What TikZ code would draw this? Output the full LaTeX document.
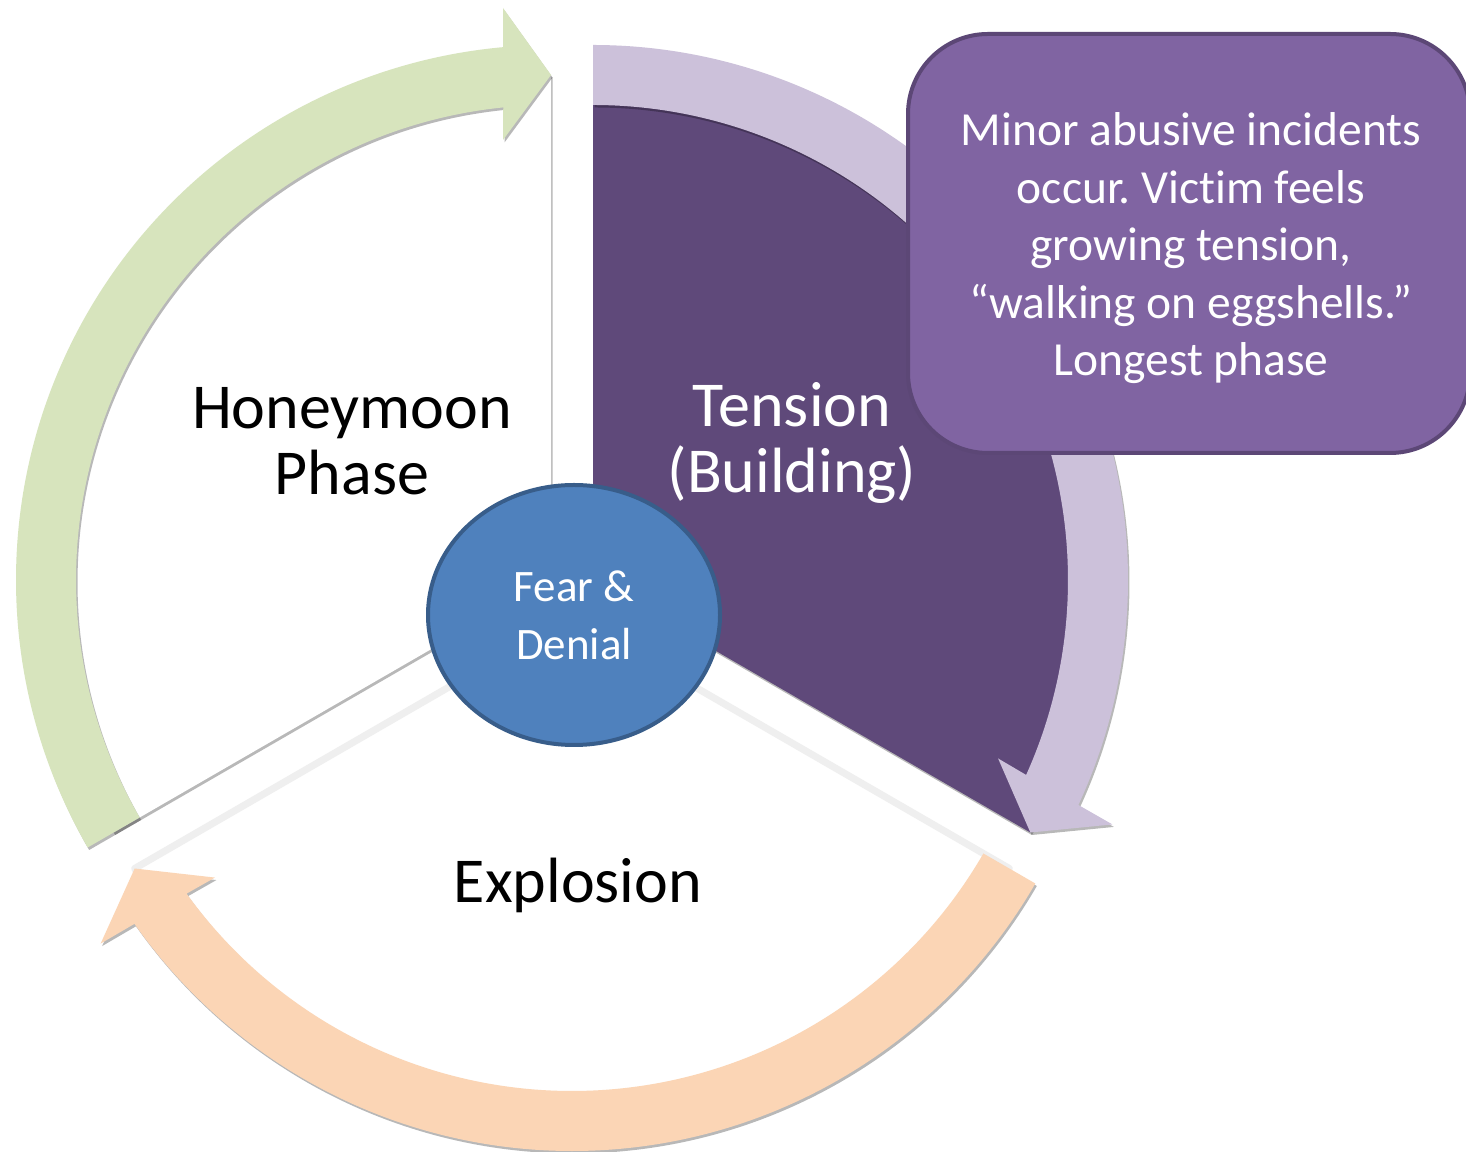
\documentclass[tikz,border=0pt]{standalone}
\usepackage{fontspec}
\setmainfont[Ligatures=NoCommon]{Carlito}
\frenchspacing
\usetikzlibrary{calc,shadows,shapes.geometric}
\definecolor{grn}{HTML}{D7E4BD}
\definecolor{lpur}{HTML}{CCC1DA}
\definecolor{peach}{HTML}{FBD5B5}
\definecolor{dpur}{HTML}{5F497A}
\definecolor{mpur}{HTML}{8064A2}
\definecolor{mpurb}{HTML}{5C4776}
\definecolor{blu}{HTML}{4F81BD}
\definecolor{blub}{HTML}{385D8A}
\definecolor{edgegray}{HTML}{EFEFEF}
\newcommand{\cyclearrow}[3]{%
  \pgfmathsetmacro{\aS}{#2+120}%
  \pgfmathsetmacro{\aO}{#2+5.13}%
  \pgfmathsetmacro{\aI}{#2+5.77}%
  \pgfmathsetmacro{\aP}{#2+90}%
  \fill[#3,shd] ($(#1)+(\aS:535)$) arc[start angle=\aS,end angle=\aO,radius=535]
     -- ($(#1)+(#2:572)+(\aP:48)$) -- ($(#1)+(#2:505)$) -- ($(#1)+(#2:440)+(\aP:48)$)
     -- ($(#1)+(\aI:475)$) arc[start angle=\aI,end angle=\aS,radius=475] -- cycle;}
\begin{document}
\begin{tikzpicture}[x=1pt,y=1pt,
  shd/.style={drop shadow={shadow xshift=1.5pt,shadow yshift=-2.5pt,fill=black,opacity=0.28}},
  lbl/.style={font=\fontsize{64}{66}\selectfont,align=center,inner sep=0pt}]
\useasboundingbox (0,0) rectangle (1466,1151);
\fill[white] (0,0) rectangle (1466,1151);
\coordinate (cH) at (551,571);
\coordinate (cT) at (593,571);
\coordinate (cE) at (572,535);
% sectors
\fill[white,shd] (cH) -- ++(90:505) arc[start angle=90,end angle=210,radius=505] -- cycle;
\filldraw[fill=white,draw=edgegray,line width=7pt,line join=round] (cE) -- ++(210:505) arc[start angle=210,end angle=330,radius=505] -- cycle;
\fill[dpur,shd] (cT) -- ++(90:505) arc[start angle=90,end angle=-30,radius=505] -- cycle;
% arrows
\cyclearrow{cH}{90}{grn}
\cyclearrow{cT}{-30}{lpur}
\cyclearrow{cE}{210}{peach}
% centre
\node[ellipse,minimum width=292pt,minimum height=260pt,inner sep=0pt,fill=blu,draw=blub,line width=4pt,
  text=white,align=center,font=\fontsize{45}{58}\selectfont] (fear) at (574,536) {Fear \&\\Denial};
% callout
\node[rectangle,rounded corners=80pt,minimum width=562pt,minimum height=419pt,fill=mpur,draw=mpurb,line width=4pt] (callout) at (1189,907.5) {};
\node[text=white,align=center,inner sep=0pt,font=\fontsize{47.5}{57.5}\selectfont] (calltext) at (1191,902.5)
  {Minor abusive incidents\\occur. Victim feels\\growing tension,\\“walking on eggshells.”\\Longest phase};
% labels
\node[lbl,anchor=base] (honey) at (352,656) {Honeymoon\\Phase};
\node[lbl,anchor=base,text=white] (tension) at (792,658) {Tension\\(Building)};
\node[lbl,anchor=base] (explo) at (578,248) {Explosion};
\end{tikzpicture}
\end{document}
